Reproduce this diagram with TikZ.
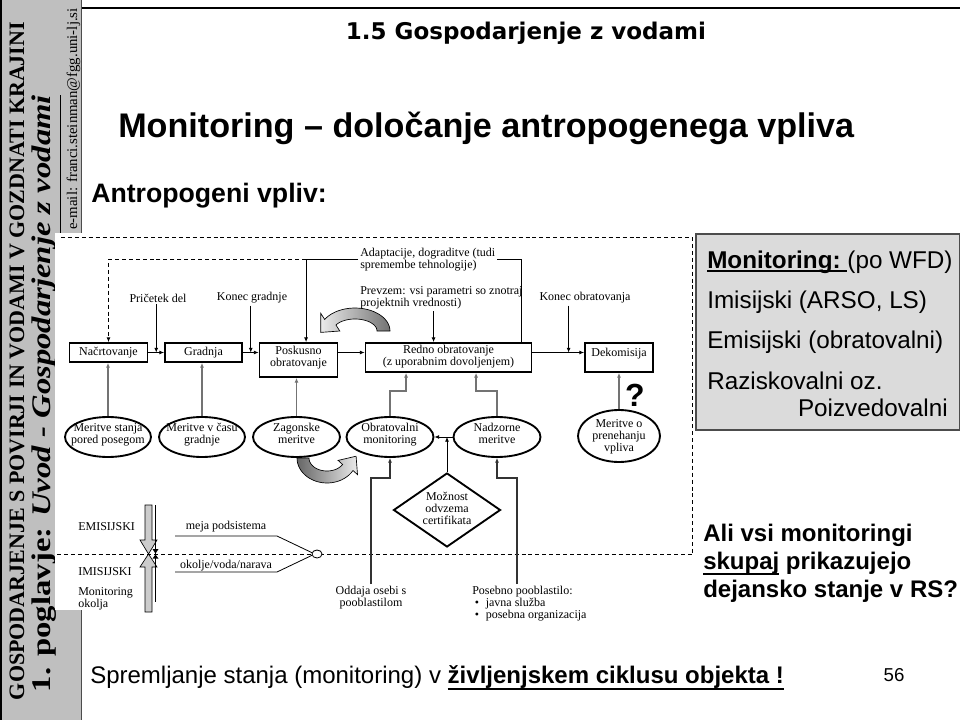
\documentclass[tikz,border=0pt]{standalone}
\usepackage{fontspec}
\usepackage{graphicx}
\setmainfont{Liberation Serif}
\newfontfamily\arial{Liberation Sans}
\newfontfamily\dejab{DejaVu Sans}
\usetikzlibrary{shapes.geometric,arrows.meta,calc}
\newsavebox\ulbox
\newcommand{\thul}[2]{\sbox\ulbox{#2}\rlap{\rule[#1]{\wd\ulbox}{1.6pt}}\usebox\ulbox}
\newcommand{\zt}[2][0pt]{\smash{\makebox[0pt]{\raisebox{#1}{\begin{tabular}{@{}c@{}}#2\end{tabular}}}}}
\newcommand{\dfont}{\fontsize{9}{9}\selectfont}
\begin{document}
\begin{tikzpicture}[x=0.75pt,y=-0.75pt,
  box/.style={draw, line width=1.4pt, font=\dfont, inner sep=0pt},
  ell/.style={ellipse, draw, line width=1.4pt, font=\dfont, inner sep=0pt, minimum width=64.5pt, minimum height=30pt},
  lbl/.style={font=\dfont, inner sep=1.5pt, align=left},
  arr/.style={-{Latex[length=3.5pt,width=3pt]}, line width=0.6pt},
  garr/.style={arr, draw=black!55, line width=1.1pt},
  dsh/.style={dash pattern=on 3pt off 2.2pt, line width=0.6pt},
  thin/.style={line width=0.6pt}
]
\useasboundingbox (0,0) rectangle (960,720);
\fill[white] (0,0) rectangle (960,720);
% sidebar
\fill[black!25] (0,0) rectangle (81,720);
\draw[line width=1.5pt] (1,0) -- (1,720);
\draw[line width=0.8pt, black!70] (81.5,0) -- (81.5,720);
\draw[line width=1.6pt] (81.5,8) -- (960,8);
\node[rotate=90, inner sep=0pt] (sb1) at (17,361) {\resizebox{508.5pt}{!}{\bfseries GOSPODARJENJE S POVIRJI IN VODAMI V GOZDNATI KRAJINI}};
\node[rotate=90, inner sep=0pt] (sb2) at (47,393.5) {\resizebox{447.75pt}{14pt}{\bfseries 1. poglavje: \textit{\underline{Uvod - Gospodarjenje z vodami}}}};
\node[rotate=90, inner sep=0pt] (sb3) at (73.5,119) {\resizebox{166pt}{!}{e-mail: franci.steinman@fgg.uni-lj.si}};
% slide texts
\node[inner sep=0] (hdr) at (526,33) {\resizebox{270pt}{!}{\dejab\bfseries 1.5 Gospodarjenje z vodami}};
\node[font=\arial\bfseries\fontsize{25.6}{30}\selectfont, anchor=west, inner sep=0] (tit) at (118,128) {Monitoring – določanje antropogenega vpliva};
\node[font=\arial\bfseries\fontsize{20}{24}\selectfont, anchor=west, inner sep=0] (ant) at (91,196) {Antropogeni vpliv:};
% image area
\fill[white] (55,233) rectangle (692,610);
\draw[dsh] (61,237) -- (692,237) -- (692,554);
\draw[dsh] (57,554) -- (692,554);
% right box
\node[draw=black!70, line width=1.2pt, fill=black!14, minimum width=198pt, minimum height=147pt, anchor=north west, inner sep=0] (wfd) at (695,233) {};
\node[font=\arial\fontsize{18.2}{22}\selectfont, anchor=west, inner sep=0] (w1) at (707,262) {\textbf{\thul{-3pt}{Monitoring:\ }}(po WFD)};
\node[font=\arial\fontsize{18.2}{22}\selectfont, anchor=west, inner sep=0] (w2) at (707,302) {Imisijski (ARSO, LS)};
\node[font=\arial\fontsize{18.2}{22}\selectfont, anchor=west, inner sep=0] (w3) at (707,342) {Emisijski (obratovalni)};
\node[font=\arial\fontsize{18.2}{22}\selectfont, anchor=west, inner sep=0] (w4) at (707,381) {Raziskovalni oz.};
\node[font=\arial\fontsize{18.2}{22}\selectfont, anchor=east, inner sep=0] (w5) at (948,408) {Poizvedovalni};
\node[font=\arial\bfseries\fontsize{18}{21}\selectfont, anchor=west, align=left, inner sep=0] (ali) at (703,563) {Ali vsi monitoringi\\\thul{-4.5pt}{skupaj} prikazujejo\\dejansko stanje v RS?};
\node[font=\arial\fontsize{18}{21}\selectfont, anchor=west, inner sep=0] (bot) at (90,678) {Spremljanje stanja (monitoring) v \textbf{\thul{-5pt}{življenjskem ciklusu objekta !}}};
\node[font=\arial\fontsize{14}{16}\selectfont, inner sep=0] (pg) at (894,675) {56};
% boxes
\node[box, minimum width=58.5pt, minimum height=14.25pt] (nac) at (108.5,352.5) {\zt[-2.5pt]{Načrtovanje}};
\node[box, minimum width=57.75pt, minimum height=14.25pt] (gra) at (203.5,352.5) {\zt[-2.5pt]{Gradnja}};
\node[box, minimum width=58.5pt, minimum height=25.5pt] (pos) at (298.5,360) {\zt[-1pt]{Poskusno\\obratovanje}};
\node[box, minimum width=124.5pt, minimum height=21.75pt] (red) at (448.5,357.5) {\zt[-2pt]{Redno obratovanje\\(z uporabnim dovoljenjem)}};
\node[box, minimum width=51pt, minimum height=21.75pt] (dek) at (619,357.5) {\zt[0.5pt]{Dekomisija}};
% ellipses
\node[ell] (e1) at (108,437) {\zt[-1pt]{Meritve stanja\\pored posegom}};
\node[ell] (e2) at (202,437) {\zt[-1pt]{Meritve v času\\gradnje}};
\node[ell, minimum width=65.25pt] (e3) at (296.5,437) {\zt[-1pt]{Zagonske\\meritve}};
\node[ell, minimum width=65.25pt] (e4) at (390,437) {\zt[-1pt]{Obratovalni\\monitoring}};
\node[ell, minimum width=65.25pt] (e5) at (497,437) {\zt[-1pt]{Nadzorne\\meritve}};
\node[ell, minimum width=61.5pt, minimum height=39pt] (e6) at (619,436) {\zt[-3pt]{Meritve o\\prenehanju\\vpliva}};
% labels
\node[lbl] (prc) at (158,298) {Pričetek del};
\node[lbl] (kgr) at (252,298) {Konec gradnje};
\node[lbl] (kob) at (585,298) {Konec obratovanja};
\node[lbl, anchor=west] (ada) at (358,259.5) {Adaptacije, dograditve (tudi\\spremembe tehnologije)};
\node[lbl, anchor=west] (prv) at (358,297.5) {Prevzem: vsi parametri so znotraj\\projektnih vrednosti)};
% main flow arrows
\coordinate (j1) at ($(nac.east)!0.5!(gra.west)$);
\draw[arr] (nac.east) -- (gra.west);
\draw[arr] (prc.south -| j1) -- (j1);
\draw[arr] (gra.east) -- (gra.east -| pos.west);
\coordinate (j2) at ($(gra.east)!0.5!(gra.east -| pos.west)$);
\draw[arr] (kgr.south -| j2) -- (j2);
\draw[arr] (pos.east |- nac.east) -- (red.west |- nac.east);
\draw[arr] (red.east |- nac.east) -- (dek.west |- nac.east);
\coordinate (j3) at ($(red.east |- nac.east)!0.7!(dek.west |- nac.east)$);
\draw[arr] (kob.south -| j3) -- (j3);
\path (pos.north west) ++(47.5,0) coordinate (adk);
\coordinate (k1) at (ada.west -| adk);
\draw[arr] (ada.west) -- (k1) -- (adk);
\draw[arr, dsh] (k1) -| (nac.north);
\draw[thin] (ada.east) -| ($(red.north west)+(156.5,0)$);
\coordinate (rp) at ($(red.north west)+(69,0)$);
\draw[arr] (prv.south -| rp) -- (rp);
% gray measurement connectors
\draw[garr] (e1.north) -- (e1.north |- nac.south);
\draw[garr] (e2.north) -- (e2.north |- gra.south);
\draw[garr] (e3.north) -- (e3.north |- pos.south);
\draw[garr] (e4.north) -- ++(0,-25) -| ($(red.south west)+(41.5,0)$);
\draw[garr] (e5.north) -- ++(0,-25) -| ($(red.south west)+(111.5,0)$);
\draw[garr] (e6.north) -- (e6.north |- dek.south);
\node[font=\arial\bfseries\fontsize{24}{24}\selectfont, inner sep=0] (qm) at (635,395) {?};
% curved block arrows
\path[draw=black, line width=0.5pt, left color=black!8, right color=black!55]
  plot[domain=0:-150, samples=25, variable=\t] ({355+35*cos(\t)},{331+23*sin(\t)})
  -- (320.8,313.4) -- (320.8,332.4) -- (339.8,331)
  -- plot[domain=-150:0, samples=25, variable=\t] ({355+22*cos(\t)},{331+12*sin(\t)})
  -- cycle;
\path[draw=black, line width=0.5pt, left color=black!60, right color=black!8]
  plot[domain=180:30, samples=25, variable=\t] ({327+30*cos(\t)},{458+25*sin(\t)})
  -- (357.5,474.6) -- (356.1,456.2) -- (338.1,460.4)
  -- plot[domain=30:180, samples=25, variable=\t] ({327+18*cos(\t)},{458+13*sin(\t)})
  -- cycle;
% lower part
\node[diamond, draw, line width=1.4pt, minimum width=80.25pt, minimum height=55.5pt, inner sep=0, font=\dfont] (dia) at (447,510) {\zt[-2pt]{Možnost\\odvzema\\certifikata}};
\draw[arr] (e5.west) -- (e4.east);
\draw[arr] (dia.north) -- (dia.north |- e4.east);
\node[lbl, anchor=north, align=center] (odd) at (371,584) {Oddaja osebi s\\pooblastilom};
\draw[garr, draw=black!80, line width=0.8pt] (odd.north) -- ++(0,-106) -| (e4.south);
\node[lbl, anchor=north west] (pob) at (470,584) {Posebno pooblastilo:\\\hspace*{2pt}\textbullet\hspace{5pt}javna služba\\\hspace*{2pt}\textbullet\hspace{5pt}posebna organizacija};
\draw[garr, draw=black!80, line width=0.8pt] ($(pob.north west)+(47,0)$) -- ++(0,-106) -| (e5.south);
% emission / immission
\node[lbl, anchor=west] (emi) at (76,527) {EMISIJSKI};
\node[lbl, anchor=west] (imi) at (76,572) {IMISIJSKI};
\node[lbl, anchor=north west] (mok) at (76,585) {Monitoring\\okolja};
\draw[line width=0.5pt, fill=black!20] (145,505) -- (152,505) -- (152,540) -- (157,540) -- (148.5,554) -- (140,540) -- (145,540) -- cycle;
\draw[line width=0.5pt, fill=black!20] (145,612) -- (152,612) -- (152,567) -- (157,567) -- (148.5,554) -- (140,567) -- (145,567) -- cycle;
\draw[line width=0.6pt] (155.5,505) -- (155.5,602);
\fill (152.5,549) -- (158.5,549) -- (155.5,553.5) -- cycle;
\fill (152.5,558.5) -- (158.5,558.5) -- (155.5,554.5) -- cycle;
\node[lbl] (mej) at (226,527) {meja podsistema};
\node[lbl] (oko) at (226,566) {okolje/voda/narava};
\node[ellipse, draw, line width=0.6pt, fill=white, minimum width=7.5pt, minimum height=6pt, inner sep=0] (cir) at (317,554) {};
\coordinate (m1) at (175,536);
\coordinate (m2) at (277,536);
\coordinate (o1) at (175,572);
\coordinate (o2) at (277,572);
\draw[thin] (m1) -- (m2) -- (cir.165);
\draw[thin] (o1) -- (o2) -- (cir.195);
\end{tikzpicture}
\end{document}
